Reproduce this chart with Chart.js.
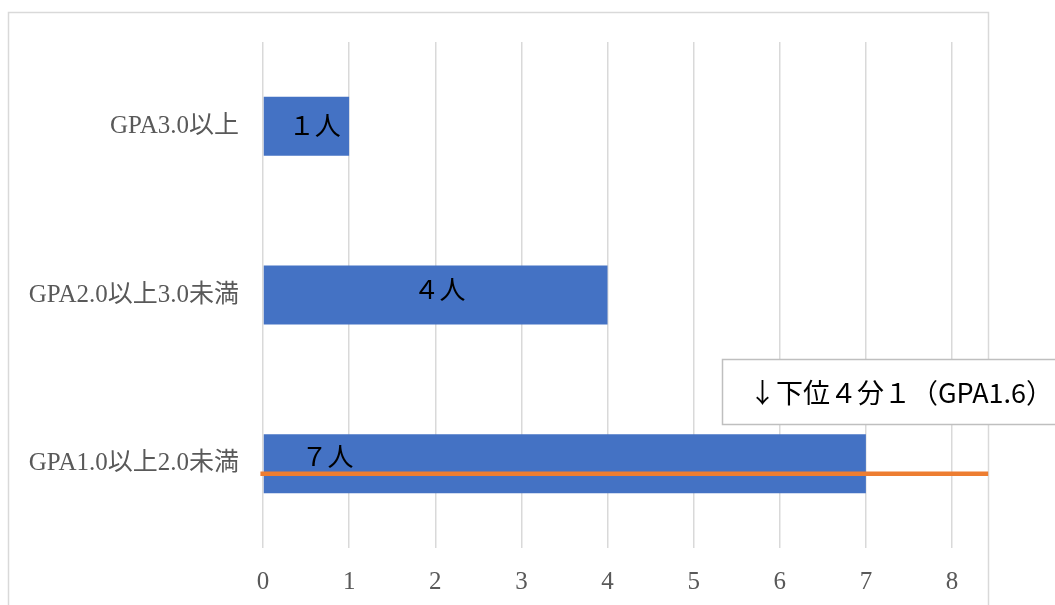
<!DOCTYPE html>
<html>
<head>
<meta charset="utf-8">
<script src="https://cdn.jsdelivr.net/npm/chart.js@4"></script>
<style>
  html, body { margin: 0; padding: 0; background: #fff; }
  #wrap { width: 1055px; height: 605px; }
</style>
</head>
<body>
<div id="wrap"><canvas id="chart" width="1055" height="605"></canvas></div>
<script>
// データ
const categories = ["GPA3.0以上", "GPA2.0以上3.0未満", "GPA1.0以上2.0未満"];
const counts = [1, 4, 7];
const countLabels = ["１人", "４人", "７人"];
const xTicks = [0, 1, 2, 3, 4, 5, 6, 7, 8];
// 下位4分の1の線（カテゴリ軸上の位置）
const quartileLineY = [2.06];
const quartileLineX = [-0.03, 8.42];
const noteText = "↓下位４分１（GPA1.6）";

const serif = "'Liberation Serif', 'DejaVu Serif', 'Noto Sans CJK JP', serif";
const gothic = "'Noto Sans CJK JP', 'DejaVu Sans', sans-serif";

// 枠線・ラベル・注記
const extras = {
  id: "extras",
  beforeDraw(chart) {
    const ctx = chart.ctx;
    ctx.save();
    ctx.strokeStyle = "#d9d9d9";
    ctx.lineWidth = 1.5;
    ctx.strokeRect(8.5, 12.5, 980, 700);
    ctx.restore();
  },
  afterDatasetsDraw(chart) {
    const ctx = chart.ctx;
    const x = chart.scales.x;
    const meta = chart.getDatasetMeta(0);
    const labelPos = [0.6, 2.05, 0.75];
    const labelDy = [2, -3, -4];
    ctx.save();
    ctx.fillStyle = "#000";
    ctx.font = "26px " + serif;
    ctx.textAlign = "center";
    ctx.textBaseline = "middle";
    meta.data.forEach((bar, i) => {
      ctx.fillText(countLabels[i], x.getPixelForValue(labelPos[i]), bar.y + labelDy[i]);
    });
    ctx.restore();
  },
  afterDraw(chart) {
    const ctx = chart.ctx;
    ctx.save();
    ctx.fillStyle = "#fff";
    ctx.fillRect(722, 359, 340, 65);
    ctx.strokeStyle = "#bfbfbf";
    ctx.lineWidth = 1.5;
    ctx.strokeRect(722.5, 359.5, 340, 65);
    ctx.fillStyle = "#000";
    ctx.font = "27px " + gothic;
    ctx.textBaseline = "middle";
    ctx.fillText(noteText, 749, 393);
    ctx.restore();
  }
};

new Chart(document.getElementById("chart"), {
  data: {
    labels: categories,
    datasets: [
      {
        type: "bar",
        data: counts,
        backgroundColor: "#4472C4",
        grouped: false,
        categoryPercentage: 1,
        barPercentage: 0.35,
        order: 2
      },
      {
        type: "line",
        data: quartileLineX.map(v => ({ x: v, y: quartileLineY[0] })),
        yAxisID: "y2",
        borderColor: "#ED7D31",
        borderWidth: 4.5,
        pointRadius: 0,
        clip: false,
        order: 1
      }
    ]
  },
  options: {
    indexAxis: "y",
    responsive: false,
    animation: false,
    layout: { padding: { top: 42, right: 103, left: 0, bottom: 0 } },
    plugins: { legend: { display: false }, tooltip: { enabled: false } },
    scales: {
      x: {
        type: "linear",
        min: 0,
        max: 8,
        afterBuildTicks: s => { s.ticks = xTicks.map(v => ({ value: v })); },
        grid: { color: "#d9d9d9", lineWidth: 1.5, drawTicks: false },
        border: { display: false },
        ticks: { color: "#595959", font: { family: serif, size: 25 }, padding: 19 },
        afterFit: s => { s.height = 57; }
      },
      y: {
        type: "category",
        grid: { display: false },
        border: { display: false },
        ticks: { color: "#595959", font: { family: serif, size: 25 }, padding: 16 },
        afterFit: s => { s.width = 263; }
      },
      y2: {
        type: "linear",
        display: false,
        min: -0.5,
        max: 2.5,
        reverse: true
      }
    }
  },
  plugins: [extras]
});
</script>
</body>
</html>
